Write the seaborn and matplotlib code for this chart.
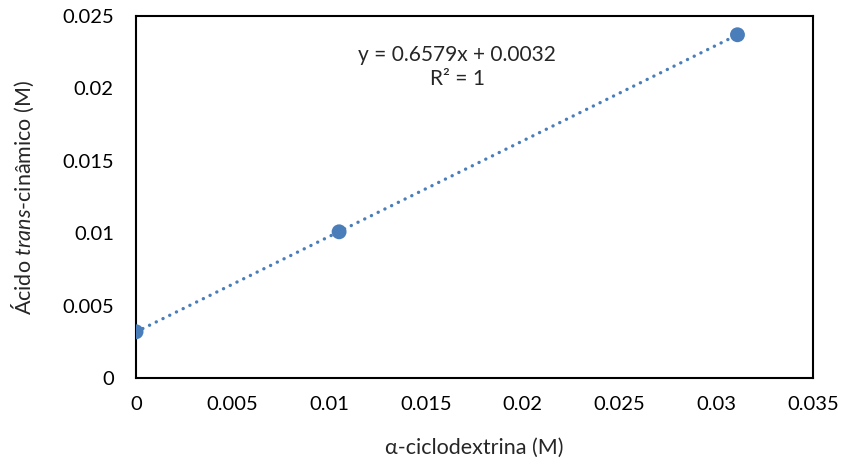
import matplotlib
matplotlib.use("Agg")
import matplotlib.pyplot as plt
import seaborn as sns
import numpy as np
import pandas as pd
from matplotlib.ticker import FuncFormatter, MultipleLocator

# Data
ciclodextrina = [0.0, 0.0105, 0.0311]
cinamico = [0.0032, 0.0101, 0.0237]
equation_text = "y = 0.6579x + 0.0032\nR² = 1"

df = pd.DataFrame({"x": ciclodextrina, "y": cinamico})

sns.set_style("white")
plt.rcParams["font.family"] = ["Lato", "DejaVu Sans"]
plt.rcParams["mathtext.fontset"] = "custom"
plt.rcParams["mathtext.it"] = "Lato:italic"
plt.rcParams["mathtext.rm"] = "Lato"

blue = "#4a7ebb"

fig = plt.figure(figsize=(8.45, 4.68), dpi=100)
ax = fig.add_axes([0.161, 0.192, 0.801, 0.774])

sns.regplot(data=df, x="x", y="y", ci=None, ax=ax,
            scatter_kws={"s": 115, "color": blue, "alpha": 1, "zorder": 3, "edgecolor": "none"},
            line_kws={"color": blue, "linestyle": (0, (0.05, 2.2)), "linewidth": 2.4,
                      "dash_capstyle": "round"})

ax.set_xlim(0, 0.035)
ax.set_ylim(0, 0.025)
ax.xaxis.set_major_locator(MultipleLocator(0.005))
ax.yaxis.set_major_locator(MultipleLocator(0.005))
fmt = FuncFormatter(lambda v, p: f"{round(v, 4):g}")
ax.xaxis.set_major_formatter(fmt)
ax.yaxis.set_major_formatter(fmt)

for s in ax.spines.values():
    s.set_visible(True)
    s.set_color("black")
    s.set_linewidth(1.5)

ax.tick_params(axis="both", direction="in", length=5, width=1.5, colors="black",
               labelsize=14.5)
ax.tick_params(axis="x", pad=13)
ax.tick_params(axis="y", pad=16)

ax.set_xlabel("α-ciclodextrina (M)", fontsize=15.5, labelpad=18)
ax.set_ylabel(r"Ácido $\mathit{trans}$-cinâmico (M)", fontsize=15.5, labelpad=19)

ax.text(0.0166, 0.02145, equation_text, ha="center", va="center", fontsize=15,
        linespacing=1.25)

fig.savefig("out.png", dpi=100)
